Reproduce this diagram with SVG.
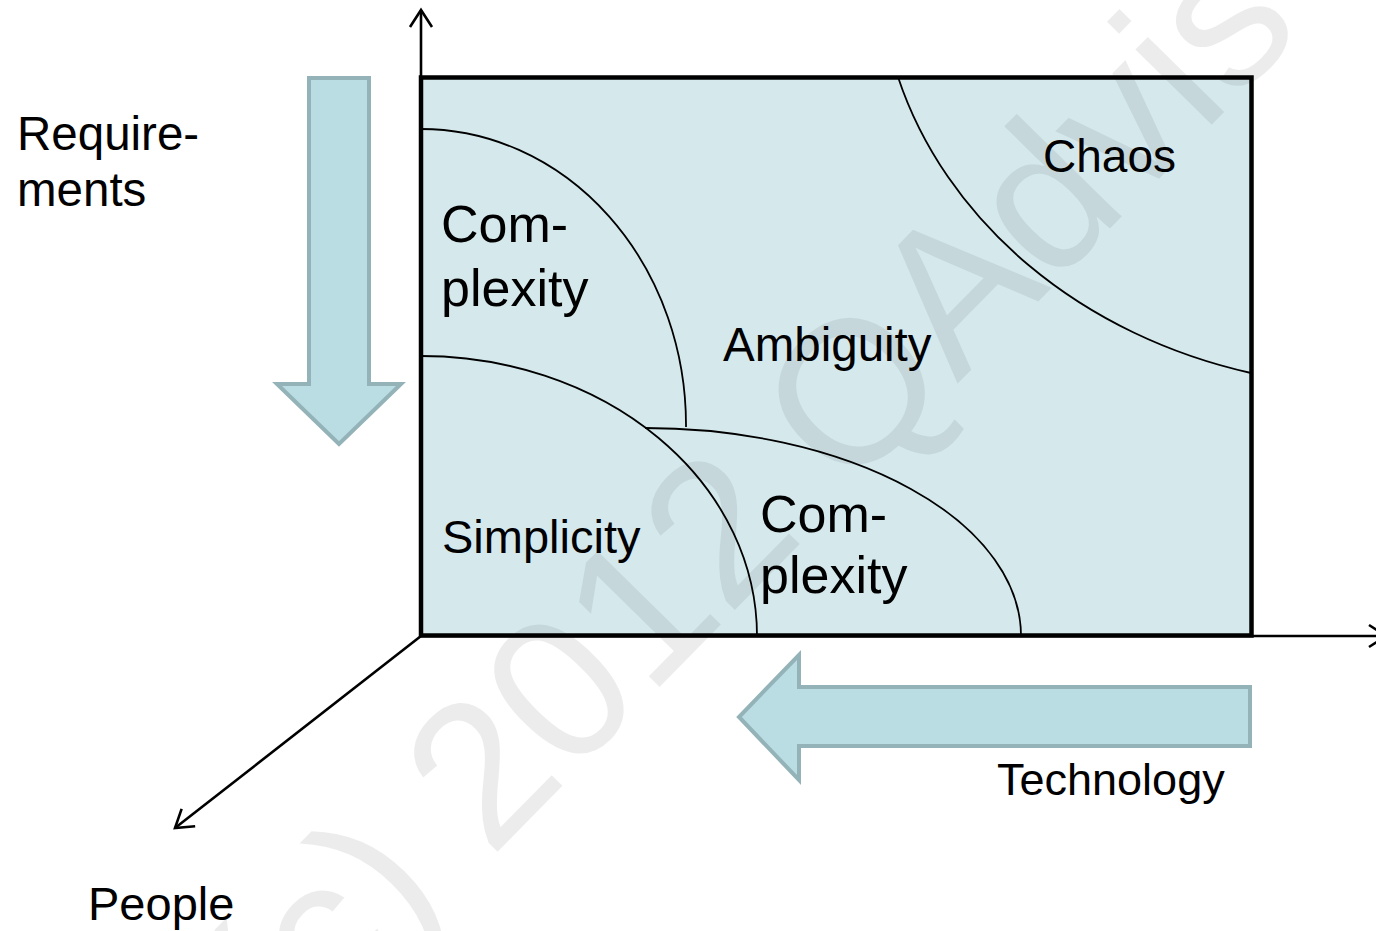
<svg xmlns="http://www.w3.org/2000/svg" width="1376" height="931" viewBox="0 0 1376 931">
  <style>
    .lbl { font-family: "Liberation Sans", Arial, sans-serif; fill: #000; }
    .zone { fill: none; stroke: #000; stroke-width: 1.8; }
    .axis { fill: none; stroke: #000; stroke-width: 2.6; }
    .block { fill: #b9dde2; stroke: #93b3b8; stroke-width: 4; stroke-linejoin: miter; }
    .mark { font-family: "Liberation Sans", Arial, sans-serif; font-size: 203px; fill: #000; fill-opacity: 0.075; }
  </style>
  <defs>
    <marker id="head" markerUnits="userSpaceOnUse" markerWidth="30" markerHeight="30" viewBox="-20 -15 24 30" refX="0" refY="0" orient="auto">
      <path d="M-17,-11 L0,0 L-17,11" fill="none" stroke="#000" stroke-width="2.6"/>
    </marker>
  </defs>

  <rect width="1376" height="931" fill="#fff"/>

  <!-- main field -->
  <g id="field">
    <rect x="421" y="77.5" width="830.5" height="558" fill="#d5e9ed" stroke="#000" stroke-width="4.5"/>
  </g>

  <!-- zone boundaries -->
  <g id="zones">
    <path class="zone" d="M421,129 A265,296 0 0,1 686,427"/>
    <path class="zone" d="M421,356 A336,280 0 0,1 757,636"/>
    <path class="zone" d="M645,428 A376,208 0 0,1 1021,636"/>
    <path class="zone" d="M898,77 A497,427 0 0,0 1251,373"/>
  </g>

  <!-- axes -->
  <g id="connectors">
    <line class="axis" x1="421" y1="636" x2="421" y2="10" marker-end="url(#head)"/>
    <line class="axis" x1="421" y1="636" x2="1386" y2="636" marker-end="url(#head)"/>
    <line class="axis" x1="421" y1="636" x2="175" y2="828" marker-end="url(#head)"/>
  </g>

  <!-- direction arrows -->
  <g id="arrow-requirements">
    <path class="block" d="M309,78 H369 V384 H401 L339,444 L277,384 H309 Z"/>
  </g>
  <g id="arrow-technology">
    <path class="block" d="M1250,687 V746 H799 V780 L739,717 L799,655 V687 Z"/>
  </g>

  <!-- labels -->
  <g id="label-requirements">
    <text class="lbl" x="17" y="150" font-size="47.5">Require-</text>
    <text class="lbl" x="17" y="206" font-size="47.5">ments</text>
  </g>
  <g id="label-complexity-upper">
    <text class="lbl" x="441" y="242" font-size="52">Com-</text>
    <text class="lbl" x="441" y="306" font-size="52">plexity</text>
  </g>
  <g id="label-ambiguity">
    <text class="lbl" x="723" y="361" font-size="47.5">Ambiguity</text>
  </g>
  <g id="label-chaos">
    <text class="lbl" x="1043" y="172" font-size="46">Chaos</text>
  </g>
  <g id="label-simplicity">
    <text class="lbl" x="442" y="553" font-size="47">Simplicity</text>
  </g>
  <g id="label-complexity-lower">
    <text class="lbl" x="760" y="532" font-size="52">Com-</text>
    <text class="lbl" x="760" y="593" font-size="52">plexity</text>
  </g>
  <g id="label-technology">
    <text class="lbl" x="997" y="795" font-size="45">Technology</text>
  </g>
  <g id="label-people">
    <text class="lbl" x="88" y="920" font-size="47">People</text>
  </g>

  <!-- copyright watermark -->
  <text class="mark" transform="translate(285,1068) rotate(-45.5)">(c) 2012 QAdvis</text>
</svg>
